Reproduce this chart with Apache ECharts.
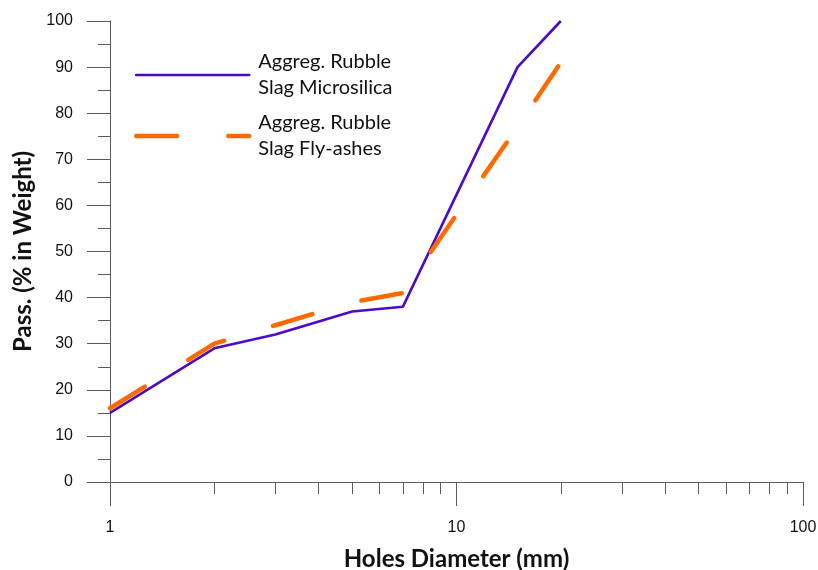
<!DOCTYPE html>
<html>
<head>
<meta charset="utf-8">
<script src="https://cdn.jsdelivr.net/npm/echarts@6/dist/echarts.min.js"></script>
<style>html,body{margin:0;padding:0;background:#fff}#c{width:818px;height:570px}</style>
</head>
<body>
<div id="c"></div>
<script>
var microX = [1, 2, 3, 5, 7, 15, 20];
var microY = [15, 29, 32, 37, 38, 90, 100];
var flyX = [1, 2, 3, 5, 7, 10, 15, 20];
var flyY = [16, 30, 34, 39, 41, 58, 77, 91];
var majorXTicks = [1, 10, 100];
var minorXTicks = [2, 3, 4, 5, 6, 7, 8, 9, 20, 30, 40, 50, 60, 70, 80, 90];
var seriesNames = ['Aggreg. Rubble\nSlag Microsilica', 'Aggreg. Rubble\nSlag Fly-ashes'];

function pairs(xs, ys) { return xs.map(function (x, i) { return [x, ys[i]]; }); }

var axisColor = '#5a5a5a';
var chart = echarts.init(document.getElementById('c'));
chart.setOption({
  animation: false,
  backgroundColor: '#fff',
  grid: { left: 110, right: 15, top: 21, bottom: 88, outerBoundsMode: 'none', containLabel: false },
  legend: {
    orient: 'vertical',
    left: 129, top: 44,
    itemWidth: 113, itemHeight: 14, itemGap: 9,
    data: seriesNames,
    itemStyle: { opacity: 0 },
    lineStyle: { width: 'inherit', type: 'inherit', cap: 'round' },
    textStyle: { fontFamily: 'Lato', fontSize: 20, color: '#111', lineHeight: 26, padding: [0, 0, 0, 4] }
  },
  xAxis: [{
    type: 'log', logBase: 10, min: 1, max: 100,
    name: 'Holes Diameter (mm)', nameLocation: 'middle', nameGap: 65,
    nameTextStyle: { fontFamily: 'Lato', fontWeight: 'bold', fontSize: 24, color: '#111' },
    axisLine: { show: true, onZero: false, lineStyle: { color: axisColor, width: 1 } },
    axisTick: { show: true, inside: false, length: 24, customValues: majorXTicks, lineStyle: { color: axisColor } },
    axisLabel: { margin: 38, fontFamily: 'Liberation Sans', fontSize: 16, color: '#111', customValues: majorXTicks },
    splitLine: { show: false },
    minorTick: { show: false }
  }, {
    type: 'log', logBase: 10, min: 1, max: 100, position: 'bottom',
    axisLine: { show: false, onZero: false },
    axisTick: { show: true, inside: false, length: 12, customValues: minorXTicks, lineStyle: { color: axisColor } },
    axisLabel: { show: false },
    splitLine: { show: false }
  }],
  yAxis: {
    type: 'value', min: 0, max: 100, interval: 10,
    name: 'Pass. (% in Weight)', nameLocation: 'middle', nameGap: 67, nameRotate: 90,
    nameTextStyle: { fontFamily: 'Lato', fontWeight: 'bold', fontSize: 24, color: '#111' },
    axisLine: { show: true, onZero: false, lineStyle: { color: axisColor, width: 1 } },
    axisTick: { show: true, length: 23, lineStyle: { color: axisColor } },
    minorTick: { show: true, splitNumber: 2, length: 12, lineStyle: { color: axisColor } },
    axisLabel: { margin: 37, fontFamily: 'Liberation Sans', fontSize: 16, color: '#111' },
    splitLine: { show: false }
  },
  series: [{
    name: seriesNames[0], type: 'line', symbol: 'none', xAxisIndex: 0,
    data: pairs(microX, microY),
    color: '#4a0ac6',
    lineStyle: { color: '#4a0ac6', width: 2.6, type: 'solid' }
  }, {
    name: seriesNames[1], type: 'line', symbol: 'none', xAxisIndex: 0,
    data: pairs(flyX, flyY),
    color: '#ff6a00',
    lineStyle: { color: '#ff6a00', width: 4.5, type: [41, 51], cap: 'round' }
  }]
});
</script>
</body>
</html>
